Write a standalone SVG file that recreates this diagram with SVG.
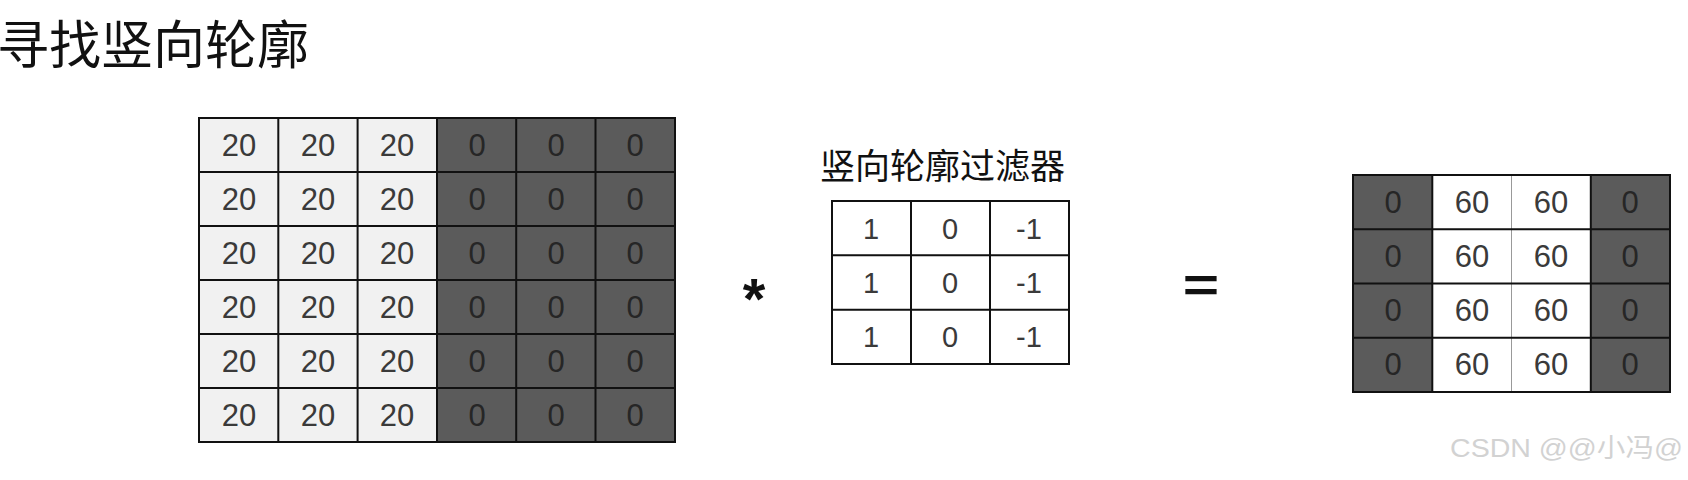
<svg xmlns="http://www.w3.org/2000/svg" width="1688" height="480" viewBox="0 0 1688 480">
<style>
.cjk{font-family:"Noto Sans CJK SC","Liberation Sans",sans-serif;fill:#111}
.num{font-family:"Liberation Sans",Arial,sans-serif;font-size:31px;fill:#3a3a3a;text-anchor:middle}
.numd{font-family:"Liberation Sans",Arial,sans-serif;font-size:31px;fill:#262626;text-anchor:middle}
.lt{fill:#f1f1f1}
.dk{fill:#5b5b5b}
.wh{fill:#ffffff}
.grid{stroke:#111;stroke-width:2;fill:none}
.thin{stroke:#999;stroke-width:1;fill:none}
.op{font-family:"Liberation Sans",Arial,sans-serif;fill:#111;text-anchor:middle;font-weight:bold}
</style>
<rect width="1688" height="480" fill="#ffffff"/>
<text class="cjk" x="-3" y="64" font-size="52">寻找竖向轮廓</text>

<g id="input-matrix">
  <rect class="lt" x="199" y="118" width="238" height="324"/>
  <rect class="dk" x="437" y="118" width="238" height="324"/>
  <rect class="grid" x="199" y="118" width="476" height="324"/>
  <path class="grid" d="M278.3 118V442M357.6 118V442M437 118V442M516.2 118V442M595.5 118V442M199 172H675M199 226H675M199 280H675M199 334H675M199 388H675"/>
  <g class="num">
    <text x="239" y="156">20</text><text x="318" y="156">20</text><text x="397" y="156">20</text>
    <text x="239" y="210">20</text><text x="318" y="210">20</text><text x="397" y="210">20</text>
    <text x="239" y="264">20</text><text x="318" y="264">20</text><text x="397" y="264">20</text>
    <text x="239" y="318">20</text><text x="318" y="318">20</text><text x="397" y="318">20</text>
    <text x="239" y="372">20</text><text x="318" y="372">20</text><text x="397" y="372">20</text>
    <text x="239" y="426">20</text><text x="318" y="426">20</text><text x="397" y="426">20</text>
  </g>
  <g class="numd">
    <text x="477" y="156">0</text><text x="556" y="156">0</text><text x="635" y="156">0</text>
    <text x="477" y="210">0</text><text x="556" y="210">0</text><text x="635" y="210">0</text>
    <text x="477" y="264">0</text><text x="556" y="264">0</text><text x="635" y="264">0</text>
    <text x="477" y="318">0</text><text x="556" y="318">0</text><text x="635" y="318">0</text>
    <text x="477" y="372">0</text><text x="556" y="372">0</text><text x="635" y="372">0</text>
    <text x="477" y="426">0</text><text x="556" y="426">0</text><text x="635" y="426">0</text>
  </g>
</g>

<g id="operator-star">
  <text class="op" x="754" y="319" font-size="58">*</text>
</g>

<g id="filter">
  <text class="cjk" x="942.5" y="179" font-size="35" text-anchor="middle" fill="#2a2a2a">竖向轮廓过滤器</text>
  <rect class="wh" x="832" y="201" width="237" height="163"/>
  <rect class="grid" x="832" y="201" width="237" height="163"/>
  <path class="grid" d="M911 201V364M990 201V364M832 255.3H1069M832 309.7H1069"/>
  <g class="num" style="font-size:29px">
    <text x="871" y="239">1</text><text x="950" y="239">0</text><text x="1029" y="239">-1</text>
    <text x="871" y="293">1</text><text x="950" y="293">0</text><text x="1029" y="293">-1</text>
    <text x="871" y="347">1</text><text x="950" y="347">0</text><text x="1029" y="347">-1</text>
  </g>
</g>

<g id="operator-equals">
  <text class="op" transform="translate(1201 302) scale(1.3 1)" x="0" y="0" font-size="48">=</text>
</g>

<g id="output-matrix">
  <rect class="dk" x="1353" y="175" width="79.3" height="217"/>
  <rect class="wh" x="1432.3" y="175" width="158.5" height="217"/>
  <rect class="dk" x="1590.8" y="175" width="79.2" height="217"/>
  <path class="thin" d="M1511.5 175V392"/>
  <rect class="grid" x="1353" y="175" width="317" height="217"/>
  <path class="grid" d="M1432.3 175V392M1590.8 175V392M1353 229.2H1670M1353 283.5H1670M1353 337.7H1670"/>
  <g class="numd">
    <text x="1393" y="213">0</text><text x="1630" y="213">0</text>
    <text x="1393" y="267">0</text><text x="1630" y="267">0</text>
    <text x="1393" y="321">0</text><text x="1630" y="321">0</text>
    <text x="1393" y="375">0</text><text x="1630" y="375">0</text>
  </g>
  <g class="num">
    <text x="1472" y="213">60</text><text x="1551" y="213">60</text>
    <text x="1472" y="267">60</text><text x="1551" y="267">60</text>
    <text x="1472" y="321">60</text><text x="1551" y="321">60</text>
    <text x="1472" y="375">60</text><text x="1551" y="375">60</text>
  </g>
</g>

<text x="1450" y="457" font-family="Liberation Sans, Noto Sans CJK SC, sans-serif" font-size="26" fill="#d2d2d2" textLength="233" lengthAdjust="spacingAndGlyphs">CSDN @@小冯@</text>
</svg>
